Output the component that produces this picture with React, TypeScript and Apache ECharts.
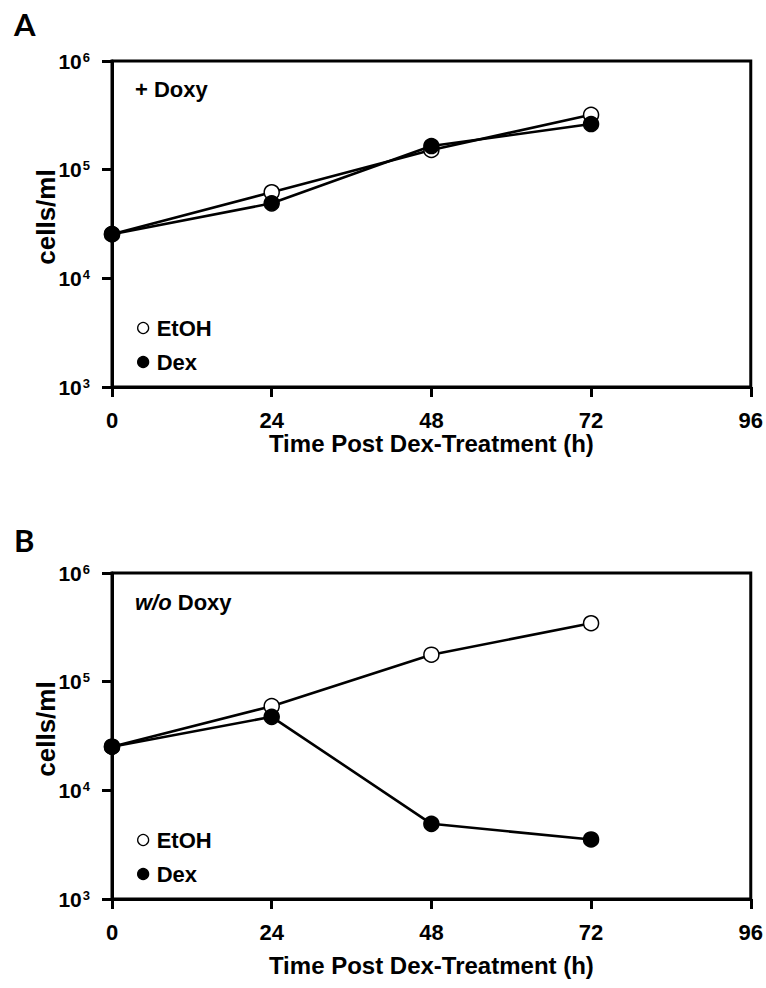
import React, { useEffect, useRef } from "react";
import * as echarts from "echarts";

const hours = [0, 24, 48, 72];
const xTicks = [0, 24, 48, 72, 96];
const yTickExponents = [3, 4, 5, 6];

// Panel A: + Doxy
const etohA = [25500, 62000, 152000, 320000];
const dexA = [25500, 49000, 165000, 263000];
// Panel B: w/o Doxy
const etohB = [25200, 59500, 177000, 345000];
const dexB = [25200, 47500, 4920, 3530];

const panelLetters = ["A", "B"];
const panelConditions = ["+ Doxy", "{i|w/o} Doxy"];
const seriesNames = ["EtOH", "Dex"];
const xTitle = "Time Post Dex-Treatment (h)";
const yTitle = "cells/ml";

const FONT = "'Liberation Sans', Arial, Helvetica, sans-serif";

export default function App() {
  const ref = useRef<HTMLDivElement>(null);

  useEffect(() => {
    if (!ref.current) return;
    const chart = echarts.init(ref.current, undefined, { renderer: "svg" });

    const gridTops = [61, 573];
    const nameGaps = [35, 54];
    const grids = gridTops.map((t) => ({
      left: 112,
      top: t,
      width: 640,
      height: 326,
      show: true,
      borderColor: "#000",
      borderWidth: 3,
      backgroundColor: "transparent",
    }));

    const xAxes = gridTops.map((_, i) => ({
      type: "value",
      gridIndex: i,
      min: xTicks[0],
      max: xTicks[xTicks.length - 1],
      interval: 24,
      name: xTitle,
      nameLocation: "middle",
      nameGap: nameGaps[i],
      nameTextStyle: { fontFamily: FONT, fontWeight: "bold", fontSize: 24, color: "#000" },
      axisLine: { show: true, lineStyle: { color: "#000", width: 3 } },
      axisTick: { show: true, length: 10, lineStyle: { color: "#000", width: 3 } },
      axisLabel: { margin: 22, fontFamily: FONT, fontWeight: "bold", fontSize: 22, color: "#000" },
      splitLine: { show: false },
    }));

    const yAxes = gridTops.map((_, i) => ({
      type: "log",
      logBase: 10,
      gridIndex: i,
      min: Math.pow(10, yTickExponents[0]),
      max: Math.pow(10, yTickExponents[yTickExponents.length - 1]),
      axisLine: { show: true, lineStyle: { color: "#000", width: 3 } },
      axisTick: { show: true, length: 10, lineStyle: { color: "#000", width: 3 } },
      axisLabel: {
        margin: 22,
        formatter: (v: number) => `{b|10}{s|${Math.round(Math.log10(v))}}`,
        rich: {
          b: { fontFamily: FONT, fontWeight: "bold", fontSize: 21, color: "#000", lineHeight: 21, verticalAlign: "bottom" },
          s: { fontFamily: FONT, fontWeight: "bold", fontSize: 13, color: "#000", lineHeight: 13, verticalAlign: "top", padding: [0, 0, 0, 1] },
        },
      },
      splitLine: { show: false },
    }));

    const makeSeries = (name: string, data: number[], idx: number, hollow: boolean) => ({
      name,
      type: "line",
      xAxisIndex: idx,
      yAxisIndex: idx,
      data: hours.map((h, k) => [h, data[k]]),
      symbol: "circle",
      symbolSize: 15,
      clip: false,
      lineStyle: { color: "#000", width: 2.6 },
      itemStyle: { color: hollow ? "#fff" : "#000", borderColor: "#000", borderWidth: 1.5 },
      emphasis: { disabled: true },
    });

    const series = [
      makeSeries(seriesNames[0], etohA, 0, true),
      makeSeries(seriesNames[1], dexA, 0, false),
      makeSeries(seriesNames[0], etohB, 1, true),
      makeSeries(seriesNames[1], dexB, 1, false),
    ];

    const legendTops = [312, 824];
    const legends = legendTops.map((t) => ({
      orient: "vertical",
      left: 132,
      top: t,
      itemWidth: 11,
      itemHeight: 11,
      itemGap: 12,
      selectedMode: false,
      icon: "circle",
      textStyle: { fontFamily: FONT, fontWeight: "bold", fontSize: 22, lineHeight: 22, color: "#000", padding: [0, 0, 0, 3] },
      data: [
        { name: seriesNames[0], itemStyle: { color: "#fff", borderColor: "#000", borderWidth: 1.3 } },
        { name: seriesNames[1], itemStyle: { color: "#000", borderColor: "#000", borderWidth: 1.3 } },
      ],
    }));

    const graphics: any[] = [];
    panelLetters.forEach((l, i) => {
      graphics.push({
        type: "text",
        x: 14,
        y: [24, 540][i],
        style: {
          text: l,
          fontFamily: "Lato, 'Open Sans', sans-serif",
          fontWeight: "bold",
          fontSize: 31,
          fill: "#000",
          verticalAlign: "middle",
        },
      });
    });
    panelConditions.forEach((c, i) => {
      graphics.push({
        type: "text",
        x: 135,
        y: [89, 602][i],
        style: {
          text: c,
          fontFamily: FONT,
          fontWeight: "bold",
          fontSize: 22,
          fill: "#000",
          verticalAlign: "middle",
          rich: {
            i: { fontFamily: FONT, fontWeight: "bold", fontStyle: "italic", fontSize: 22, fill: "#000" },
          },
        },
      });
    });
    gridTops.forEach((t) => {
      graphics.push({
        type: "text",
        x: 46,
        y: t + 156,
        rotation: Math.PI / 2,
        style: {
          text: yTitle,
          fontFamily: FONT,
          fontWeight: "bold",
          fontSize: 26,
          fill: "#000",
          align: "center",
          verticalAlign: "middle",
        },
      });
    });

    chart.setOption({
      animation: false,
      backgroundColor: "#fff",
      grid: grids,
      xAxis: xAxes,
      yAxis: yAxes,
      legend: legends,
      series,
      graphic: graphics,
    });

    return () => chart.dispose();
  }, []);

  return (
    <div
      ref={ref}
      style={{ position: "absolute", left: 0, top: 0, width: 766, height: 988, background: "#fff" }}
    />
  );
}
